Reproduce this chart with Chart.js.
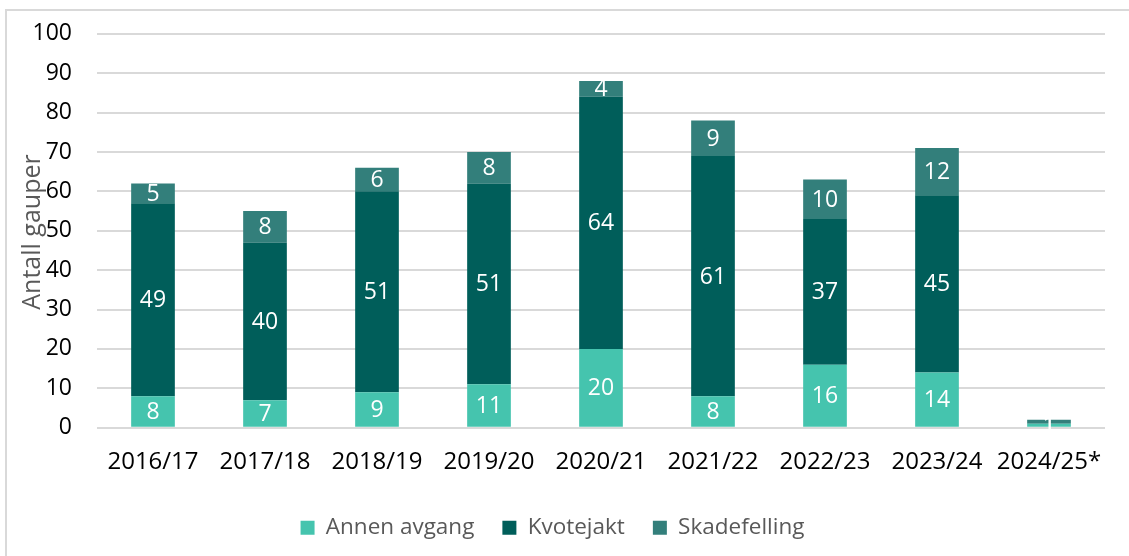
<!DOCTYPE html>
<html>
<head>
<meta charset="utf-8">
<script src="https://cdn.jsdelivr.net/npm/chart.js@4"></script>
<style>
  body { margin: 0; background: #fff; }
  #wrap { position: absolute; left: 0; top: 0; width: 1129px; height: 556px; }
  #frame { position: absolute; left: 5px; top: 9px; width: 1130px; height: 560px; border-left: 2px solid #d9d9d9; border-top: 2px solid #d9d9d9; }
</style>
</head>
<body>
<div id="wrap">
  <div id="frame"></div>
  <canvas id="myChart" width="1129" height="556"></canvas>
</div>
<script>
const seasons = ["2016/17", "2017/18", "2018/19", "2019/20", "2020/21", "2021/22", "2022/23", "2023/24", "2024/25*"];
const annenAvgang = [8, 7, 9, 11, 20, 8, 16, 14, 1];
const kvotejakt = [49, 40, 51, 51, 64, 61, 37, 45, 0];
const skadefelling = [5, 8, 6, 8, 4, 9, 10, 12, 1];
const yTicks = [0, 10, 20, 30, 40, 50, 60, 70, 80, 90, 100];
const yTitle = "Antall gauper";

const ctx = document.getElementById("myChart");

// white value in the middle of each segment + y title
const barLabels = {
  id: "barLabels",
  afterDatasetsDraw(chart) {
    const c = chart.ctx;
    c.save();
    c.fillStyle = "#ffffff";
    c.font = "23px 'Open Sans'";
    c.textAlign = "center";
    c.textBaseline = "middle";
    chart.data.datasets.forEach((ds, i) => {
      const meta = chart.getDatasetMeta(i);
      meta.data.forEach((bar, j) => {
        const v = ds.data[j];
        if (!v) return;
        c.fillText(String(v), bar.x, (bar.y + bar.base) / 2 + 1);
      });
    });
    c.restore();

    c.save();
    c.translate(33, 232);
    c.rotate(-Math.PI / 2);
    c.fillStyle = "#595959";
    c.font = "25px 'Open Sans'";
    c.textAlign = "center";
    c.textBaseline = "middle";
    c.fillText(yTitle, 0, 0);
    c.restore();
  },
};

new Chart(ctx, {
  type: "bar",
  data: {
    labels: seasons,
    datasets: [
      { label: "Annen avgang", data: annenAvgang, backgroundColor: "#45C4AE" },
      { label: "Kvotejakt", data: kvotejakt, backgroundColor: "#005E5A" },
      { label: "Skadefelling", data: skadefelling, backgroundColor: "#337F7B" },
    ],
  },
  options: {
    responsive: false,
    animation: false,
    layout: { padding: { top: 20, right: 24, left: 0, bottom: 7 } },
    datasets: { bar: { barPercentage: 0.39, categoryPercentage: 1 } },
    plugins: {
      legend: {
        position: "bottom",
        labels: {
          boxWidth: 14,
          boxHeight: 14,
          padding: 28,
          color: "#595959",
          font: { family: "'Open Sans'", size: 22.5 },
        },
      },
      tooltip: { enabled: false },
    },
    scales: {
      x: {
        stacked: true,
        grid: { display: false },
        border: { display: false },
        ticks: { color: "#000", font: { family: "'Open Sans'", size: 24 }, padding: 12 },
      },
      y: {
        stacked: true,
        min: 0,
        max: 100,
        afterBuildTicks: (axis) => { axis.ticks = yTicks.map((v) => ({ value: v })); },
        afterFit: (axis) => { axis.width = 97; },
        grid: { color: "#d9d9d9", lineWidth: 2, drawTicks: true, tickLength: 5, tickColor: "rgba(0,0,0,0)" },
        border: { display: false },
        ticks: { color: "#000", font: { family: "'Open Sans'", size: 23 }, padding: 20 },
      },
    },
  },
  plugins: [barLabels],
});
</script>
</body>
</html>
